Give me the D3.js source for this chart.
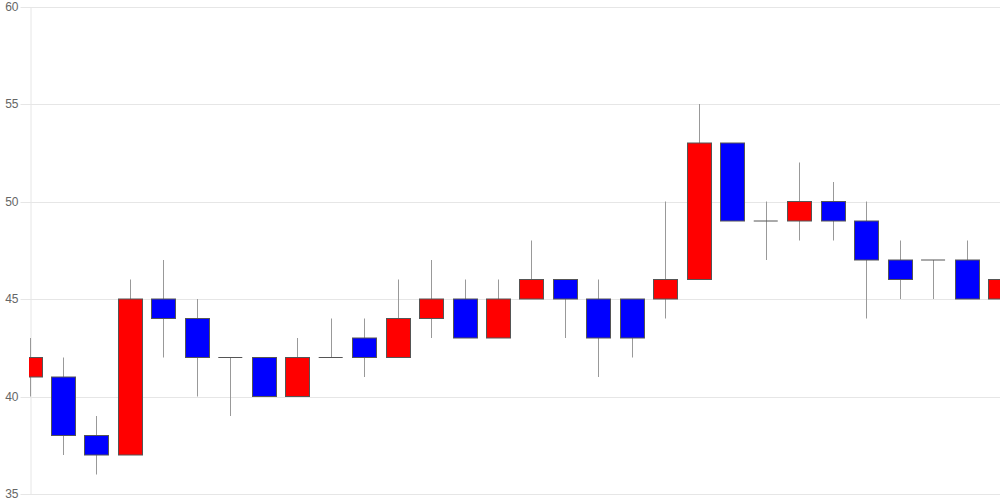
<!DOCTYPE html>
<html><head><meta charset="utf-8">
<script src="https://cdn.jsdelivr.net/npm/d3@7"></script>
<style>body{margin:0;background:#fff}svg{display:block}</style>
</head><body>
<svg id="c" width="1000" height="500"></svg>
<script>
const opens  = [41,41,38,37,45,44,42,42,40,42,43,42,44,45,43,45,46,45,45,45,46,53,49,49,50,49,47,47,47,45];
const closes = [42,38,37,45,44,42,42,40,42,42,42,44,45,43,45,46,45,43,43,46,53,49,49,50,49,47,46,47,45,46];
const highs  = [43,42,39,46,47,45,42,42,43,44,44,46,47,46,46,48,46,46,45,50,55,53,50,52,51,50,48,47,48,46];
const lows   = [40,37,36,37,42,40,39,40,40,42,41,42,43,43,43,45,43,41,42,44,46,49,47,48,48,44,45,45,45,44];
const yTicks = [35,40,45,50,55,60];

(function(){
const svg = d3.select("#c");
const mLeft = 30, mRight = 1000, mTop = 6.5, mBottom = 494;
const idx = d3.range(opens.length);
const x = d3.scalePoint().domain(idx).range([29.5, mRight]).padding(0);
const y = d3.scaleLinear().domain([35,60]).range([mBottom, mTop]);
const bw = 24;

// grid
svg.append("g").selectAll("line").data(yTicks).join("line")
  .attr("x1", mLeft).attr("x2", mRight)
  .attr("y1", d => Math.round(y(d)) + 0.5).attr("y2", d => Math.round(y(d)) + 0.5)
  .attr("stroke", "#e6e6e6").attr("stroke-width", 1);

// y axis
const ax = svg.append("g").attr("transform", `translate(${mLeft + 0.5},0)`)
  .call(d3.axisLeft(y).tickValues(yTicks).tickSize(10).tickSizeOuter(0).tickPadding(2).tickFormat(d3.format("d")));
ax.select(".domain").attr("stroke", "#e6e6e6");
ax.selectAll(".tick line").attr("stroke", "#e6e6e6");
ax.selectAll(".tick").attr("transform", d => `translate(0,${Math.round(y(d)) + 0.5})`);
ax.selectAll("text").attr("fill", "#666").style("font-family", "Liberation Sans, Arial, sans-serif").style("font-size", "12px");

svg.append("defs").append("clipPath").attr("id", "clip")
  .append("rect").attr("x", mLeft - 1).attr("y", 0).attr("width", mRight - mLeft + 1).attr("height", 500);
const plot = svg.append("g").attr("clip-path", "url(#clip)");

// wicks
plot.append("g").selectAll("line").data(idx).join("line")
  .attr("x1", i => Math.round(x(i)) + 0.5).attr("x2", i => Math.round(x(i)) + 0.5)
  .attr("y1", i => y(highs[i])).attr("y2", i => y(lows[i]))
  .attr("stroke", "#999").attr("stroke-width", 1);

// bodies
plot.append("g").selectAll("rect").data(idx.filter(i => opens[i] !== closes[i])).join("rect")
  .attr("x", i => Math.round(x(i) - bw/2) + 0.5)
  .attr("y", i => y(Math.max(opens[i], closes[i])))
  .attr("width", bw)
  .attr("height", i => Math.abs(y(opens[i]) - y(closes[i])))
  .attr("fill", i => closes[i] > opens[i] ? "#ff0000" : "#0000ff")
  .attr("stroke", "#555").attr("stroke-width", 1);

// dojis
plot.append("g").selectAll("line").data(idx.filter(i => opens[i] === closes[i])).join("line")
  .attr("x1", i => x(i) - bw/2).attr("x2", i => x(i) + bw/2)
  .attr("y1", i => y(opens[i])).attr("y2", i => y(opens[i]))
  .attr("stroke", "#555").attr("stroke-width", 1);
})();
</script>
</body></html>
